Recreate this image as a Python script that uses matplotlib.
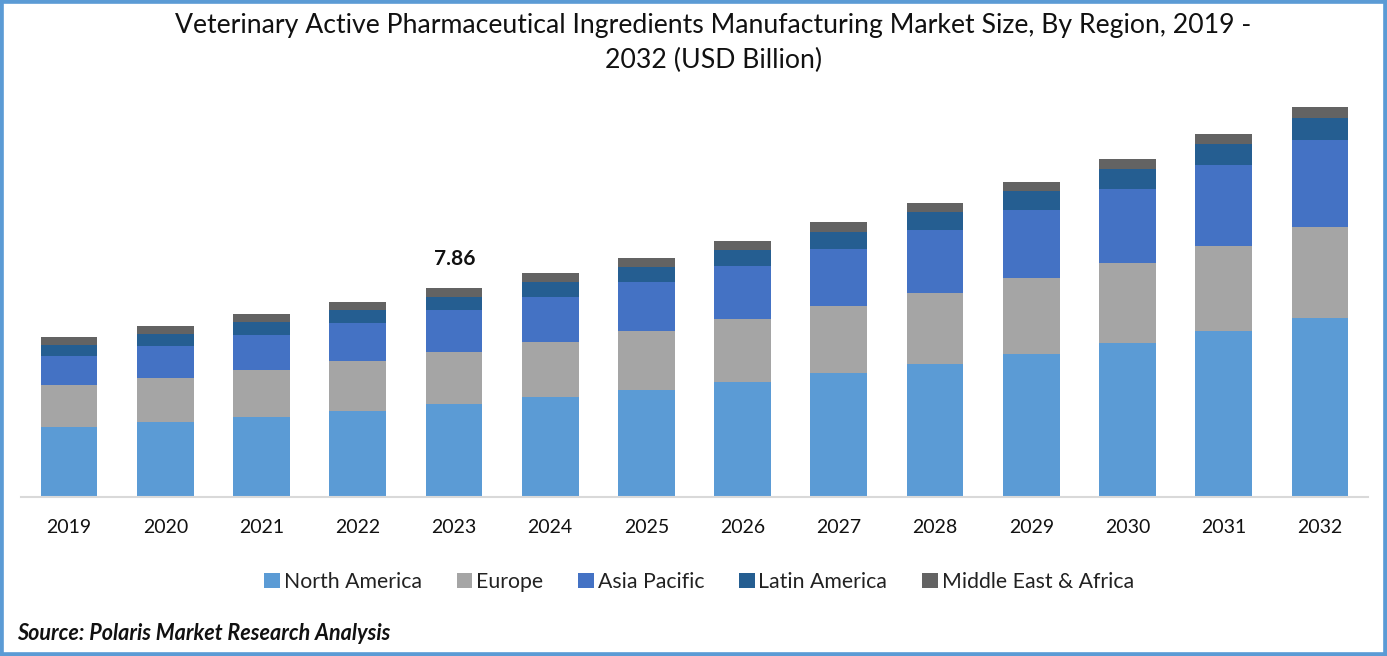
#!/usr/bin/env python3
"""Veterinary API manufacturing market size, stacked by region."""

import matplotlib
matplotlib.use('Agg')
import matplotlib.pyplot as plt
from matplotlib.patches import Rectangle

plt.rcParams['font.family'] = ['Lato', 'DejaVu Sans']

W, H = 1387, 656

years = [2019, 2020, 2021, 2022, 2023, 2024, 2025, 2026, 2027, 2028, 2029, 2030, 2031, 2032]
regions = ['North America', 'Europe', 'Asia Pacific', 'Latin America', 'Middle East & Africa']
north_america = [2.63, 2.82, 3.01, 3.23, 3.50, 3.76, 4.02, 4.32, 4.66, 5.00, 5.38, 5.79, 6.24, 6.73]
europe = [1.58, 1.65, 1.77, 1.88, 1.95, 2.07, 2.22, 2.37, 2.52, 2.67, 2.86, 3.01, 3.20, 3.42]
asia_pacific = [1.09, 1.20, 1.32, 1.43, 1.58, 1.69, 1.84, 1.99, 2.14, 2.37, 2.56, 2.78, 3.05, 3.27]
latin_america = [0.41, 0.45, 0.49, 0.49, 0.49, 0.56, 0.56, 0.60, 0.64, 0.68, 0.71, 0.75, 0.79, 0.83]
middle_east = [0.30, 0.30, 0.30, 0.30, 0.34, 0.34, 0.34, 0.34, 0.38, 0.34, 0.34, 0.38, 0.38, 0.41]
series = [north_america, europe, asia_pacific, latin_america, middle_east]
colors = ['#5B9BD5', '#A5A5A5', '#4472C4', '#255E91', '#636363']

title = ('Veterinary Active Pharmaceutical Ingredients Manufacturing Market Size, By Region, 2019 -\n'
         '2032 (USD Billion)')
source = 'Source: Polaris Market Research Analysis'

fig = plt.figure(figsize=(W / 100, H / 100), dpi=100)

# blue frame around the whole picture
fig.add_artist(Rectangle((0, 0), 1, 1, transform=fig.transFigure, fill=False,
                         edgecolor='#5B9BD5', linewidth=5.5))

ax = fig.add_axes([21 / W, 1 - 497 / H, 1347 / W, 497 / H])

bottom = [0.0] * len(years)
positions = range(len(years))
for name, values, color in zip(regions, series, colors):
    ax.bar(positions, values, bottom=bottom, width=0.59, color=color, label=name)
    bottom = [b + v for b, v in zip(bottom, values)]

ax.set_xlim(-0.5, len(years) - 0.5)
ax.set_ylim(0, 497 / 26.6)
ax.set_xticks(list(positions))
ax.set_xticklabels(years, fontsize=14, color='#111111')
ax.tick_params(axis='x', length=0, pad=16)
ax.set_yticks([])
for side in ['top', 'right', 'left']:
    ax.spines[side].set_visible(False)
ax.spines['bottom'].set_color('#D9D9D9')
ax.spines['bottom'].set_linewidth(1.5)
ax.patch.set_visible(False)

# only 2023 carries a value label
ax.text(4.01, bottom[4] + 0.72, '7.86', ha='center', va='bottom', fontsize=15, fontweight='bold',
        color='#111111')

fig.text(713.5 / W, 1 - 43 / H, title, ha='center', va='center', fontsize=19.15,
         color='#111111', linespacing=1.5)
fig.text(17 / W, 1 - 633 / H, source, ha='left', va='center', fontsize=15.5,
         fontweight='bold', fontstyle='italic', color='#111111')

fig.legend(loc='center', bbox_to_anchor=(699 / W, 1 - 582 / H), ncol=5, frameon=False,
           fontsize=15.3, handlelength=0.75, handleheight=0.75, handletextpad=0.17,
           columnspacing=1.64, labelcolor='#222222')

fig.savefig('out.png', dpi=100, facecolor='white')
